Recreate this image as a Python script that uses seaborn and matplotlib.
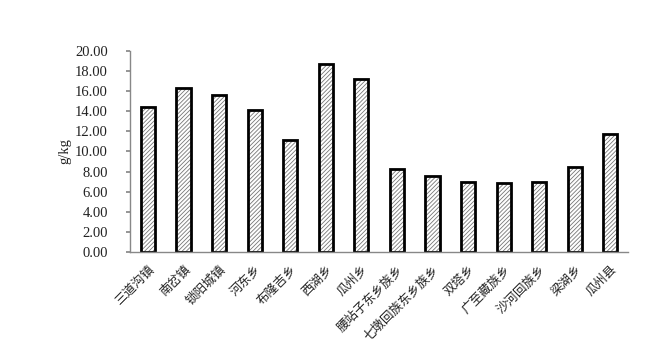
import matplotlib
matplotlib.use("Agg")
import matplotlib.pyplot as plt
import numpy as np
import pandas as pd
import seaborn as sns

towns = ["三道沟镇", "南岔镇", "锁阳城镇", "河东乡", "布隆吉乡", "西湖乡", "瓜州乡",
         "腰站子东乡族乡", "七墩回族东乡族乡", "双塔乡", "广至藏族乡", "沙河回族乡",
         "梁湖乡", "瓜州县"]
values = [14.4, 16.35, 15.6, 14.1, 11.1, 18.7, 17.2, 8.3, 7.6, 6.95, 6.85, 6.95, 8.4, 11.75]
yticks = [0, 2, 4, 6, 8, 10, 12, 14, 16, 18, 20]

df = pd.DataFrame({"town": towns, "value": values})

sns.set_theme(style="white")
plt.rcParams["font.family"] = ["Liberation Serif", "Noto Sans CJK SC"]
plt.rcParams["hatch.linewidth"] = 0.6

fig = plt.figure(figsize=(6.64, 3.64), dpi=100)
ax = fig.add_axes([0.196, 0.308, 0.75, 0.552])

# hatched fill first, then black outline on top
sns.barplot(data=df, x="town", y="value", color="white", width=0.4,
            edgecolor="#777777", linewidth=0, hatch="////////", ax=ax)
sns.barplot(data=df, x="town", y="value", fill=False, width=0.4,
            edgecolor="black", linewidth=2, ax=ax)

n = len(towns)
ax.set_xlim(-0.5, n - 0.5)
ax.set_ylim(0, 20)
ax.set_yticks(yticks)
ax.set_yticklabels([f"{v:.2f}" for v in yticks], fontsize=10.5, color="#222222")
ax.set_xticks(range(n))
ax.set_xticklabels(towns, rotation=45, ha="right", rotation_mode="anchor",
                   fontsize=9, family=["Noto Sans CJK SC"], color="#222222")
ax.set_xticks(np.arange(-0.5, n, 1), minor=True)
ax.tick_params(axis="x", which="major", length=0, pad=8)
ax.tick_params(axis="x", which="minor", length=3, color="#888888", direction="out")
ax.tick_params(axis="y", length=3, color="#888888", direction="out", left=True, pad=13)
ax.set_xlabel("")
ax.set_ylabel("g/kg", fontsize=10.5, labelpad=3, color="#222222")

for s in ["top", "right"]:
    ax.spines[s].set_visible(False)
for s in ["left", "bottom"]:
    ax.spines[s].set_color("#888888")
    ax.spines[s].set_linewidth(1)

fig.savefig("out.png", dpi=100)
